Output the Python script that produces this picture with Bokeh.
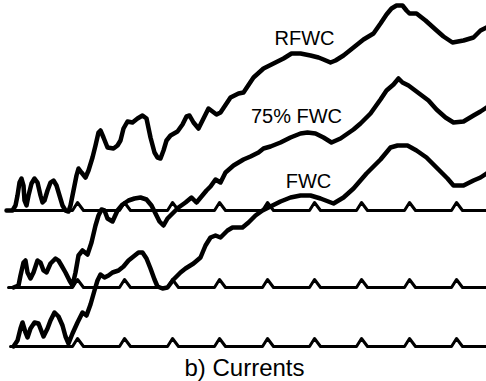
from bokeh.plotting import figure
from bokeh.models import Range1d
from bokeh.embed import file_html
from bokeh.resources import INLINE
from bokeh.core.properties import value

# ---- data (time in arbitrary units, current amplitude above each trace's zero line) ----
rfwc_t = [6, 12, 15, 17, 19, 21, 23, 24, 26, 28, 31, 34, 37, 40, 42, 44, 47, 50, 53, 56,
          59, 62, 65, 68, 70, 73, 76, 78, 81, 85, 88, 92, 95, 98, 100, 103, 107, 113, 117, 120,
          123, 127, 132, 137, 142, 146, 150, 154, 157, 160, 163, 166, 170, 177, 182, 186, 189, 193, 198, 203,
          208, 212, 216, 220, 224, 230, 238, 243, 253, 263, 273, 283, 291, 300, 310, 318, 323, 330, 335, 343,
          353, 363, 373, 380, 386, 391, 396, 402, 406, 409, 416, 425, 435, 443, 452, 463, 473, 480, 486]
rfwc_i = [0, 0, 5, 15, 28, 32, 25, 10, 5, 15, 27, 32, 28, 15, 8, 10, 20, 28, 30, 25,
          15, 5, 0, -1, 5, 20, 35, 42, 38, 33, 40, 53, 65, 78, 80, 73, 63, 62, 65, 70,
          82, 89, 88, 92, 95, 92, 73, 58, 53, 52, 60, 70, 75, 79, 86, 94, 95, 88, 82, 92,
          102, 99, 96, 98, 104, 113, 117, 118, 133, 142, 147, 152, 157, 157, 155, 153, 151, 148, 150, 155,
          163, 171, 177, 187, 196, 202, 205, 205, 200, 197, 197, 190, 181, 174, 168, 170, 173, 180, 183]

fwc75_t = [13, 18, 20, 23, 25, 27, 30, 33, 37, 40, 43, 46, 50, 55, 58, 61, 65, 69, 72, 75,
           78, 82, 87, 91, 95, 98, 101, 104, 107, 112, 117, 122, 128, 134, 140, 146, 151, 155, 159, 163,
           167, 172, 178, 185, 191, 196, 201, 206, 210, 215, 220, 225, 233, 243, 250, 258, 263, 270, 280, 290,
           300, 307, 315, 323, 331, 340, 353, 360, 370, 380, 386, 393, 398, 402, 408, 416, 428, 436, 445, 453,
           463, 473, 480, 486]
fwc75_i = [0, 2, 12, 25, 27, 15, 9, 15, 27, 25, 17, 15, 24, 29, 27, 22, 15, 7, 2, 15,
           32, 37, 33, 45, 62, 72, 78, 77, 69, 66, 77, 83, 87, 89, 90, 88, 82, 74, 66, 62,
           69, 74, 80, 85, 90, 85, 91, 97, 101, 108, 105, 115, 122, 128, 131, 135, 139, 141, 145, 150,
           154, 155, 154, 150, 145, 149, 158, 164, 174, 188, 197, 203, 209, 205, 202, 196, 187, 178, 170, 165,
           166, 172, 176, 180]

fwc_t = [13, 17, 20, 22, 25, 27, 30, 34, 38, 43, 47, 50, 54, 58, 62, 65, 68, 72, 77, 82,
         86, 90, 94, 97, 100, 104, 108, 112, 118, 123, 128, 133, 138, 142, 146, 150, 154, 157, 162, 167,
         173, 180, 185, 193, 200, 205, 210, 215, 220, 227, 232, 242, 248, 255, 262, 270, 280, 290, 300, 310,
         320, 333, 343, 353, 366, 380, 390, 397, 407, 416, 426, 436, 447, 453, 463, 473, 480, 486]
fwc_i = [0, 6, 18, 24, 14, 9, 18, 24, 23, 10, 18, 26, 34, 30, 21, 10, 3, 13, 24, 34,
         31, 42, 56, 66, 72, 69, 71, 74, 76, 80, 86, 90, 94, 94, 88, 78, 67, 60, 58, 59,
         67, 74, 78, 83, 89, 101, 109, 111, 109, 116, 119, 119, 124, 131, 136, 140, 145, 149, 151, 151,
         148, 143, 149, 158, 173, 187, 199, 201, 201, 196, 189, 179, 168, 161, 161, 166, 169, 173]

# time markers drawn on each zero line
marker_t = [77, 124, 172, 219, 267, 314, 361, 409, 456]
marker_h = 8
zero_start = [6, 8, 10]
zero_end = 486

trace_names = ["RFWC", "75% FWC", "FWC"]
title_text = "b) Currents"

# ---- layout ----
offsets = [171, 94, 35]
label_pos = [(304, 344), (296, 266), (308, 201)]

p = figure(width=486, height=381, x_range=Range1d(0, 486), y_range=Range1d(0, 381),
           output_backend="svg", toolbar_location=None, min_border=0,
           x_axis_location=None, y_axis_location=None)
p.grid.visible = False
p.outline_line_color = None
p.background_fill_color = "white"
p.border_fill_color = "white"

# zero lines with markers
for k, off in enumerate(offsets):
    xs = [zero_start[k]]
    ys = [off]
    for m in marker_t:
        xs += [m - 5, m, m + 6]
        ys += [off, off + marker_h, off]
    xs.append(zero_end)
    ys.append(off)
    p.line(xs, ys, line_color="black", line_width=3, line_join="round", line_cap="round")

series = [(rfwc_t, rfwc_i), (fwc75_t, fwc75_i), (fwc_t, fwc_i)]
for (t, i), off in zip(series, offsets):
    n = min(len(t), len(i))
    p.line(t[:n], [v + off for v in i[:n]], line_color="black", line_width=4.5,
           line_join="round", line_cap="round")

p.text(x=[q[0] for q in label_pos], y=[q[1] for q in label_pos], text=trace_names,
       text_font=value("Liberation Sans"), text_font_size="20px",
       text_align="center", text_baseline="middle", text_color="black")
p.text(x=[244], y=[14], text=[title_text],
       text_font=value("Liberation Sans"), text_font_size="24px",
       text_align="center", text_baseline="middle", text_color="black")

open("out.html", "w").write(file_html(p, INLINE))
